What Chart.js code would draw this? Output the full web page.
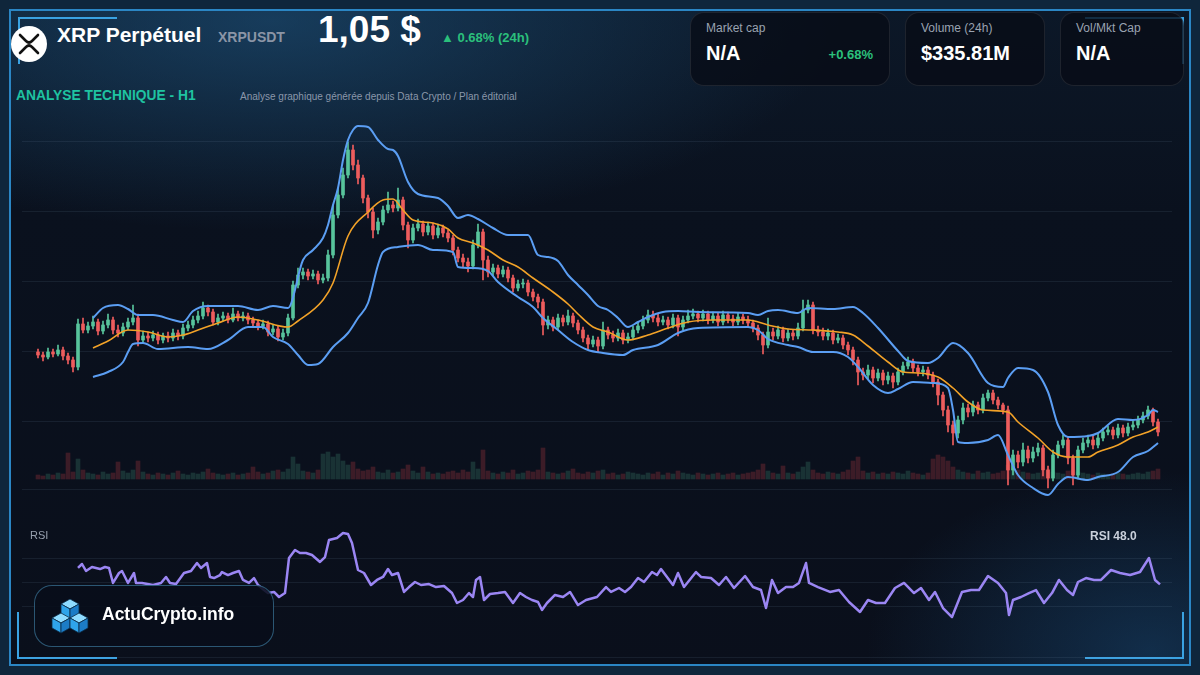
<!DOCTYPE html>
<html><head><meta charset="utf-8">
<script src="https://cdn.jsdelivr.net/npm/chart.js@4.4.1/dist/chart.umd.min.js"></script>
<style>
html,body{margin:0;padding:0;background:#0c1d30;}
#page{position:relative;width:1200px;height:675px;overflow:hidden;font-family:"Liberation Sans",Arial,sans-serif;background:#0f263b;}
#panel{position:absolute;left:9px;top:9px;width:1182px;height:657px;box-sizing:border-box;border:2px solid #2b86c4;
 background:
  radial-gradient(760px 280px at 260px 10px, rgba(30,84,126,0.6), rgba(0,0,0,0) 75%),
  radial-gradient(380px 240px at 1140px 640px, rgba(30,95,150,0.38), rgba(0,0,0,0) 75%),
  linear-gradient(#0c1828 0px, #0a111e 200px, #0a0f1b 675px);}
.br{position:absolute;border-color:#3aa2e2;border-style:solid;border-width:0;}
.t{position:absolute;white-space:nowrap;line-height:1;}
.card{position:absolute;top:12px;height:74px;box-sizing:border-box;border:1px solid rgba(255,255,255,0.09);border-radius:14px;background:rgba(8,12,22,0.78);}
canvas{position:absolute;}
</style></head>
<body><div id="page">
<div id="panel"></div>
<div class="br" style="left:18px;top:17px;width:97px;height:45px;border-top-width:2px;border-left-width:2px;"></div>
<div class="br" style="left:1085px;top:17px;width:97px;height:45px;border-top-width:2px;border-right-width:2px;"></div>
<div class="br" style="left:17px;top:612px;width:98px;height:45px;border-bottom-width:2px;border-left-width:2px;"></div>
<div class="br" style="left:1085px;top:612px;width:97px;height:45px;border-bottom-width:2px;border-right-width:2px;"></div>

<svg style="position:absolute;left:11px;top:26px" width="36" height="36" viewBox="0 0 36 36">
 <circle cx="18" cy="18" r="18" fill="#ffffff"/>
 <path d="M9,9 L15,15 Q18,18 21,15 L27,9 M9,27 L15,21 Q18,18 21,21 L27,27" fill="none" stroke="#111" stroke-width="2.6" stroke-linecap="round" stroke-linejoin="round"/>
</svg>
<div class="t" style="left:57px;top:24px;font-size:21px;font-weight:bold;color:#ffffff;">XRP Perpétuel</div>
<div class="t" style="left:218px;top:30px;font-size:14px;font-weight:bold;color:#8b95a6;">XRPUSDT</div>
<div class="t" style="left:318px;top:11px;font-size:37px;font-weight:bold;color:#ffffff;">1,05 $</div>
<div class="t" style="left:441px;top:31px;font-size:13px;font-weight:bold;color:#2bc07c;">▲ 0.68% (24h)</div>
<div class="t" style="left:16px;top:89px;font-size:13.8px;font-weight:bold;color:#1fc3a1;">ANALYSE TECHNIQUE - H1</div>
<div class="t" style="left:240px;top:92px;font-size:10px;color:#8a97aa;">Analyse graphique générée depuis Data Crypto / Plan éditorial</div>

<div class="card" style="left:690px;width:200px;"></div>
<div class="card" style="left:905px;width:140px;"></div>
<div class="card" style="left:1060px;width:124px;"></div>
<div class="t" style="left:706px;top:22px;font-size:12px;color:#9aa3b1;">Market cap</div>
<div class="t" style="left:706px;top:43px;font-size:20px;font-weight:bold;color:#ffffff;">N/A</div>
<div class="t" style="right:327px;top:48px;font-size:13px;font-weight:bold;color:#2bc07c;">+0.68%</div>
<div class="t" style="left:921px;top:22px;font-size:12px;color:#9aa3b1;">Volume (24h)</div>
<div class="t" style="left:921px;top:43px;font-size:20px;font-weight:bold;color:#ffffff;">$335.81M</div>
<div class="t" style="left:1076px;top:22px;font-size:12px;color:#9aa3b1;">Vol/Mkt Cap</div>
<div class="t" style="left:1076px;top:43px;font-size:20px;font-weight:bold;color:#ffffff;">N/A</div>

<canvas id="main" width="1150" height="395" style="left:22px;top:110px;"></canvas>
<div style="position:absolute;left:29px;top:657px;width:1143px;height:1px;background:rgba(150,175,205,0.10);"></div>
<canvas id="rsi" width="1150" height="140" style="left:22px;top:520px;"></canvas>
<div class="t" style="left:30px;top:530px;font-size:11px;color:#97a0ae;">RSI</div>
<div class="t" style="left:1090px;top:530px;font-size:12px;font-weight:bold;color:#c9d0db;">RSI 48.0</div>

<div style="position:absolute;left:34px;top:585px;width:240px;height:62px;box-sizing:border-box;border:1.5px solid rgba(80,160,205,0.5);border-radius:18px;background:rgba(8,14,26,0.88);"></div>
<svg style="position:absolute;left:51px;top:599px" width="38" height="36" viewBox="0 0 38 36">
 <defs><g id="cube">
  <polygon points="9,0 18,5 9,10 0,5" fill="#8fdcff" stroke="#0b2a44" stroke-width="0.8"/>
  <polygon points="0,5 9,10 9,20 0,15" fill="#2fa4ea" stroke="#0b2a44" stroke-width="0.8"/>
  <polygon points="9,10 18,5 18,15 9,20" fill="#1c7cc6" stroke="#0b2a44" stroke-width="0.8"/>
 </g></defs>
 <use href="#cube" x="10" y="0"/>
 <use href="#cube" x="1" y="14"/>
 <use href="#cube" x="19" y="14"/>
</svg>
<div class="t" style="left:102px;top:606px;font-size:17.5px;font-weight:bold;color:#ffffff;">ActuCrypto.info</div>
</div>

<script>
// ---- candle data (XRPUSDT, H1) ----
const firstOpen = 1.130;
const closes = [1.127,1.125,1.130,1.128,1.132,1.126,1.122,1.115,1.158,1.152,
 1.156,1.160,1.151,1.157,1.162,1.152,1.149,1.155,1.160,1.164,
 1.142,1.146,1.144,1.147,1.142,1.146,1.144,1.149,1.146,1.154,
 1.157,1.162,1.166,1.174,1.170,1.160,1.164,1.166,1.162,1.168,
 1.164,1.166,1.162,1.159,1.156,1.158,1.150,1.153,1.145,1.149,
 1.164,1.197,1.207,1.210,1.206,1.208,1.202,1.204,1.227,1.267,
 1.287,1.307,1.332,1.317,1.304,1.284,1.270,1.252,1.260,1.272,
 1.277,1.274,1.282,1.257,1.242,1.254,1.258,1.250,1.256,1.247,
 1.254,1.249,1.244,1.232,1.224,1.220,1.216,1.237,1.250,1.222,
 1.210,1.214,1.208,1.212,1.204,1.194,1.198,1.199,1.190,1.185,
 1.180,1.157,1.162,1.155,1.164,1.160,1.166,1.159,1.152,1.144,
 1.138,1.142,1.136,1.152,1.147,1.144,1.149,1.142,1.145,1.152,
 1.156,1.162,1.167,1.164,1.160,1.162,1.157,1.164,1.155,1.162,
 1.166,1.168,1.164,1.168,1.162,1.166,1.160,1.167,1.163,1.160,
 1.165,1.162,1.159,1.154,1.147,1.137,1.150,1.146,1.152,1.144,
 1.149,1.146,1.154,1.172,1.177,1.152,1.150,1.146,1.149,1.142,
 1.144,1.137,1.132,1.122,1.110,1.107,1.112,1.104,1.109,1.102,
 1.106,1.100,1.110,1.116,1.120,1.114,1.110,1.112,1.107,1.100,
 1.087,1.072,1.057,1.049,1.062,1.074,1.070,1.077,1.072,1.084,
 1.089,1.082,1.077,1.072,1.012,1.027,1.020,1.032,1.024,1.030,
 1.034,1.012,1.004,1.027,1.037,1.042,1.024,1.007,1.032,1.039,
 1.042,1.037,1.044,1.050,1.052,1.047,1.054,1.049,1.055,1.057,
 1.062,1.066,1.072,1.060,1.050];
const highs = [1.133,1.130,1.134,1.133,1.137,1.135,1.129,1.125,1.163,1.164,
 1.160,1.166,1.163,1.161,1.168,1.165,1.157,1.159,1.164,1.177,
 1.168,1.151,1.150,1.151,1.150,1.149,1.150,1.153,1.152,1.158,
 1.161,1.166,1.171,1.180,1.177,1.173,1.168,1.170,1.169,1.174,
 1.171,1.170,1.169,1.165,1.162,1.162,1.161,1.157,1.156,1.153,
 1.168,1.201,1.214,1.214,1.213,1.212,1.211,1.208,1.232,1.277,
 1.294,1.314,1.340,1.337,1.322,1.307,1.287,1.274,1.264,1.276,
 1.290,1.281,1.294,1.285,1.260,1.258,1.263,1.261,1.260,1.259,
 1.258,1.257,1.252,1.247,1.235,1.228,1.224,1.242,1.258,1.253,
 1.226,1.218,1.217,1.216,1.215,1.207,1.202,1.203,1.202,1.193,
 1.188,1.183,1.166,1.165,1.168,1.167,1.172,1.169,1.162,1.155,
 1.147,1.146,1.145,1.160,1.155,1.151,1.153,1.152,1.149,1.156,
 1.160,1.166,1.172,1.171,1.168,1.166,1.165,1.168,1.167,1.166,
 1.172,1.173,1.171,1.172,1.171,1.170,1.169,1.171,1.170,1.167,
 1.169,1.168,1.166,1.162,1.157,1.150,1.164,1.154,1.156,1.155,
 1.153,1.152,1.159,1.182,1.182,1.180,1.156,1.154,1.153,1.152,
 1.148,1.147,1.140,1.135,1.125,1.114,1.117,1.115,1.113,1.112,
 1.110,1.109,1.114,1.120,1.125,1.123,1.117,1.116,1.115,1.110,
 1.103,1.090,1.076,1.061,1.066,1.079,1.078,1.081,1.080,1.088,
 1.092,1.092,1.085,1.079,1.076,1.032,1.031,1.039,1.036,1.035,
 1.039,1.037,1.016,1.032,1.041,1.047,1.045,1.027,1.036,1.044,
 1.047,1.046,1.049,1.054,1.056,1.055,1.058,1.057,1.059,1.061,
 1.066,1.070,1.076,1.074,1.063];
const lows = [1.124,1.121,1.123,1.125,1.126,1.122,1.118,1.110,1.112,1.149,
 1.149,1.153,1.147,1.148,1.154,1.148,1.145,1.146,1.152,1.157,
 1.136,1.139,1.140,1.141,1.138,1.139,1.140,1.141,1.142,1.143,
 1.151,1.154,1.159,1.163,1.166,1.157,1.157,1.161,1.159,1.160,
 1.161,1.161,1.158,1.155,1.152,1.153,1.146,1.147,1.141,1.142,
 1.146,1.162,1.194,1.203,1.202,1.203,1.198,1.199,1.201,1.224,
 1.264,1.284,1.304,1.312,1.298,1.279,1.264,1.244,1.248,1.257,
 1.269,1.270,1.271,1.252,1.234,1.239,1.251,1.246,1.247,1.243,
 1.244,1.245,1.240,1.227,1.220,1.215,1.210,1.213,1.234,1.202,
 1.205,1.206,1.204,1.205,1.200,1.190,1.191,1.194,1.186,1.181,
 1.174,1.147,1.153,1.151,1.152,1.156,1.157,1.155,1.148,1.140,
 1.133,1.135,1.130,1.133,1.143,1.140,1.141,1.138,1.139,1.142,
 1.149,1.153,1.159,1.160,1.156,1.157,1.153,1.154,1.146,1.152,
 1.159,1.163,1.160,1.161,1.158,1.159,1.156,1.157,1.159,1.156,
 1.157,1.158,1.155,1.150,1.142,1.128,1.134,1.142,1.143,1.140,
 1.141,1.142,1.143,1.151,1.169,1.148,1.146,1.142,1.142,1.138,
 1.139,1.133,1.127,1.117,1.097,1.102,1.103,1.099,1.101,1.097,
 1.098,1.094,1.097,1.107,1.113,1.110,1.106,1.106,1.103,1.095,
 1.077,1.066,1.050,1.037,1.044,1.058,1.065,1.066,1.068,1.069,
 1.081,1.078,1.073,1.068,0.997,1.007,1.014,1.016,1.019,1.020,
 1.026,1.006,0.994,1.001,1.024,1.034,1.018,0.997,1.003,1.029,
 1.035,1.033,1.034,1.041,1.047,1.043,1.044,1.045,1.046,1.052,
 1.054,1.059,1.063,1.056,1.046];
const volumes = [4,3,5,4,6,5,26,7,20,9, 6,5,4,7,5,6,17,8,6,9, 18,7,5,4,6,5,4,6,8,5,
 4,6,5,7,10,6,5,4,5,6, 4,5,6,12,7,5,6,8,9,7, 10,22,15,8,7,6,9,25,27,22,
 25,18,14,17,10,8,9,12,7,6, 9,6,7,10,14,8,6,12,7,5, 6,5,7,8,6,9,7,17,10,29,
 8,6,5,7,6,9,5,6,8,7, 9,31,7,6,5,6,8,10,6,5, 7,6,8,9,5,6,4,5,7,6,
 5,4,6,5,7,4,6,5,8,6, 5,4,6,5,4,5,6,4,5,6, 4,5,6,7,9,15,8,6,5,13,
 6,5,7,12,17,9,6,5,7,6, 5,7,9,18,22,8,6,7,5,6, 5,7,6,5,8,6,5,4,6,20,
 24,22,18,12,9,7,6,5,8,6, 7,5,6,8,14,20,9,7,6,5, 6,8,10,7,6,5,8,9,7,6,
 5,4,6,5,4,5,6,5,4,5, 6,5,7,8,10];

// ---- Bollinger bands and moving average (read at candle indices) ----
const upperIdx = [11,13,16,18,20,23,27,29,31,34,40,44,47,50,53,55,57,58,59,60,61,62,63,64,66,68,70,71,72,74,76,80,82,84,86,88,91,94,98,100,102,104,106,108,110,112,114,116,118,120,122,125,128,132,142,144,146,148,152,154,159,163,165,168,172,174,178,180,183,186,190,193,194,196,199,202,204,206,210,212,216,219,222,223,224];
const upperVals = [1.164,1.174,1.177,1.173,1.167,1.167,1.162,1.160,1.171,1.176,1.176,1.172,1.176,1.174,1.222,1.232,1.244,1.257,1.277,1.294,1.322,1.342,1.352,1.356,1.355,1.342,1.333,1.332,1.326,1.300,1.288,1.284,1.276,1.264,1.267,1.263,1.254,1.247,1.247,1.227,1.225,1.221,1.207,1.197,1.187,1.176,1.172,1.164,1.155,1.160,1.165,1.170,1.171,1.170,1.169,1.167,1.171,1.172,1.169,1.174,1.173,1.175,1.169,1.154,1.131,1.121,1.119,1.124,1.139,1.129,1.099,1.095,1.104,1.114,1.112,1.090,1.057,1.045,1.046,1.049,1.063,1.062,1.067,1.072,1.070];
const lowerIdx = [11,14,17,18,19,21,24,30,34,38,42,45,47,50,52,54,56,59,62,64,66,68,69,72,76,79,83,84,87,90,92,96,99,101,104,107,110,113,117,119,124,128,132,142,144,146,150,152,155,159,162,164,167,170,172,175,179,182,183,184,186,190,192,194,196,199,202,204,206,210,212,216,219,222,224];
const lowerVals = [1.105,1.110,1.120,1.130,1.138,1.139,1.133,1.135,1.133,1.142,1.155,1.155,1.145,1.138,1.127,1.117,1.118,1.135,1.149,1.164,1.179,1.217,1.230,1.235,1.237,1.232,1.230,1.215,1.214,1.211,1.200,1.185,1.175,1.164,1.152,1.140,1.132,1.129,1.127,1.132,1.137,1.149,1.154,1.155,1.152,1.143,1.137,1.135,1.130,1.130,1.125,1.115,1.097,1.089,1.093,1.100,1.099,1.094,1.072,1.040,1.039,1.042,1.047,1.027,1.007,0.994,0.987,0.998,1.005,1.002,1.005,1.010,1.025,1.031,1.039];
const smaIdx = [11,14,18,22,26,29,32,36,40,44,50,52,57,59,62,66,69,71,73,75,79,82,84,87,90,93,96,99,103,106,108,111,114,118,122,126,130,135,142,146,150,155,160,163,166,170,173,176,180,183,186,189,194,196,200,203,206,210,212,216,219,222,224];
const smaVals = [1.134,1.141,1.152,1.150,1.145,1.147,1.152,1.159,1.165,1.162,1.155,1.161,1.182,1.199,1.246,1.270,1.282,1.283,1.272,1.262,1.259,1.253,1.244,1.239,1.232,1.222,1.215,1.204,1.190,1.178,1.168,1.155,1.150,1.142,1.147,1.154,1.160,1.162,1.162,1.157,1.153,1.152,1.150,1.147,1.136,1.120,1.110,1.109,1.105,1.094,1.080,1.072,1.070,1.060,1.044,1.030,1.025,1.025,1.030,1.037,1.045,1.050,1.055];

// ---- RSI (14) read at candle indices ----
const rsiIdx = [8.0,8.8,9.6,10.8,12.4,13.4,14.2,15.0,16.2,16.8,18.0,19.2,19.6,20.8,23.0,24.6,25.6,26.4,27.6,29.2,30.6,31.8,32.6,33.8,34.4,35.2,36.4,36.8,38.0,39.0,40.2,41.0,42.2,43.2,44.0,45.2,46.0,47.2,48.2,49.4,50.2,51.4,52.4,53.6,54.8,56.4,57.4,58.2,59.8,61.0,62.0,62.8,64.0,65.2,66.6,67.8,69.0,70.0,70.8,72.0,73.2,74.2,75.4,76.6,78.2,79.6,81.2,82.8,83.8,85.0,86.2,87.0,87.6,88.4,89.2,90.4,92.0,93.4,95.0,96.4,97.6,98.8,100.0,100.8,101.8,103.4,105.0,106.4,108.0,109.6,111.8,113.6,114.6,116.2,117.4,118.6,120.0,121.2,122.8,123.8,124.6,125.8,127.0,128.0,129.2,131.6,132.6,134.6,136.2,137.6,139.2,141.4,143.0,144.6,145.6,146.8,148.0,149.6,151.0,152.2,153.6,154.2,156.0,158.4,160.2,162.2,164.4,166.0,167.6,169.4,171.4,173.2,175.2,176.6,178.2,179.4,181.0,182.8,184.8,186.6,188.2,190.0,192.0,193.6,194.2,195.0,196.6,198.2,199.6,201.2,202.8,204.2,205.8,207.0,208.0,209.6,211.2,212.6,214.6,216.4,218.4,220.4,222.2,223.4,224.4];
const rsiVals = [61.7,65.0,59.2,62.5,60.8,62.5,61.7,49.2,57.5,59.2,49.2,57.5,49.2,49.2,47.5,49.2,54.2,49.2,48.3,57.5,59.2,65.8,61.7,65.8,54.2,53.3,55.8,58.3,55.8,57.5,59.2,51.7,49.2,53.3,47.5,43.3,40.8,41.7,37.5,40.8,70.0,76.7,74.2,74.2,72.5,66.7,70.8,85.0,86.7,90.8,90.0,82.5,60.0,57.5,47.5,51.7,54.2,60.8,55.8,57.5,41.7,45.8,50.0,47.5,48.3,45.8,46.7,40.8,32.5,35.0,40.8,37.5,51.7,54.2,35.0,40.0,40.8,41.7,32.5,40.8,37.5,35.0,33.3,26.7,32.5,39.2,37.5,41.7,30.8,35.0,37.5,45.8,41.7,45.0,41.7,45.8,53.3,50.0,58.3,55.8,60.8,54.2,47.5,57.5,45.8,58.3,54.2,53.3,47.5,54.2,45.0,55.0,45.8,43.3,28.3,51.7,40.8,45.8,45.8,49.2,65.8,49.2,45.8,41.7,43.3,33.3,25.0,35.0,32.5,32.5,45.0,49.2,40.8,45.0,35.0,41.7,28.3,20.8,41.7,43.3,43.3,55.0,49.2,40.8,22.5,35.0,37.5,40.8,43.3,32.5,40.8,51.7,43.3,39.2,50.0,53.3,51.7,51.7,60.0,57.5,55.8,58.3,70.0,51.7,48.0];

// ---- axis reference values ----
const priceGrid = [1.341,1.271,1.201,1.131,1.061,0.993];
const rsiGrid = [30,50,70];
const xMin = -3.2, xMax = 226.8;

const UP = '#58c49c', DOWN = '#ee5d5d';
const VUP = 'rgba(70,150,125,0.26)', VDOWN = 'rgba(190,60,70,0.28)';
const GRID = 'rgba(150,175,205,0.10)';

const opens = closes.map((c,i)=> i===0 ? firstOpen : closes[i-1]);
const isUp = closes.map((c,i)=> c >= opens[i]);
const idx = closes.map((_,i)=>i);
const pts = (xs, ys) => xs.map((x,k)=>({x:x, y:ys[k]}));

const baseOpts = {responsive:false, animation:false, events:[], layout:{padding:0},
  plugins:{legend:{display:false}, tooltip:{enabled:false}}};

new Chart(document.getElementById('main'), {
  type:'bar',
  data:{datasets:[
    {type:'line', data:pts(upperIdx, upperVals), borderColor:'#5b9ef3', borderWidth:2, pointRadius:0, tension:0.4, cubicInterpolationMode:'monotone', order:2, yAxisID:'y'},
    {type:'line', data:pts(lowerIdx, lowerVals), borderColor:'#5b9ef3', borderWidth:2, pointRadius:0, tension:0.4, cubicInterpolationMode:'monotone', order:2, yAxisID:'y'},
    {type:'line', data:pts(smaIdx, smaVals), borderColor:'#f2a228', borderWidth:1.6, pointRadius:0, tension:0.4, cubicInterpolationMode:'monotone', order:1, yAxisID:'y'},
    {type:'bar', data:idx.map(i=>({x:i, y:[lows[i], highs[i]]})), backgroundColor:isUp.map(u=>u?UP:DOWN), barThickness:1, grouped:false, order:6, yAxisID:'y'},
    {type:'bar', data:idx.map(i=>({x:i, y:[opens[i], closes[i]]})), backgroundColor:isUp.map(u=>u?UP:DOWN), barThickness:3, minBarLength:1, grouped:false, order:5, yAxisID:'y'},
    {type:'bar', data:idx.map(i=>({x:i, y:volumes[i]})), backgroundColor:isUp.map(u=>u?VUP:VDOWN), barThickness:4, grouped:false, order:10, yAxisID:'yv'}
  ]},
  options:Object.assign({}, baseOpts, {
    scales:{
      x:{type:'linear', min:xMin, max:xMax, offset:false, display:false},
      y:{type:'linear', min:0.977, max:1.372, ticks:{display:false}, border:{display:false},
         grid:{color:GRID, drawTicks:false}, afterBuildTicks:s=>{s.ticks = priceGrid.map(v=>({value:v}));}},
      yv:{type:'linear', min:-26, max:369, display:false}
    }})
});

new Chart(document.getElementById('rsi'), {
  type:'line',
  data:{datasets:[{data:pts(rsiIdx, rsiVals), borderColor:'#9b86f3', borderWidth:2.5, pointRadius:0, tension:0, borderJoinStyle:'round'}]},
  options:Object.assign({}, baseOpts, {
    scales:{
      x:{type:'linear', min:xMin, max:xMax, offset:false, display:false},
      y:{type:'linear', min:-15, max:101.667, ticks:{display:false}, border:{display:false},
         grid:{color:GRID, drawTicks:false}, afterBuildTicks:s=>{s.ticks = rsiGrid.map(v=>({value:v}));}}
    }})
});
</script>
</body></html>
